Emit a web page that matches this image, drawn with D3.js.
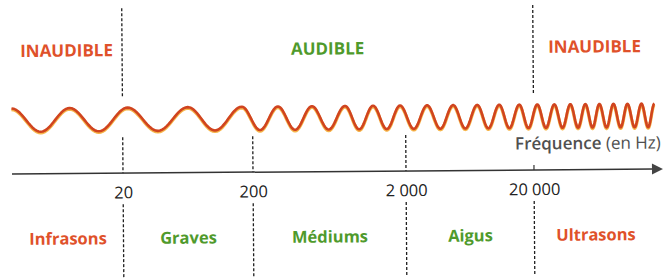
<!DOCTYPE html>
<html><head><meta charset="utf-8">
<script src="https://cdn.jsdelivr.net/npm/d3@7"></script>
<style>html,body{margin:0;padding:0;background:#fff;} svg{display:block;background:#fff}</style>
</head><body>
<svg id="chart" width="664" height="278"></svg>
<script>
// ---------- data ----------
const tickValues = [20, 200, 2000, 20000];
const tickLabels = ["20", "200", "2 000", "20 000"];
const zoneNames = ["INAUDIBLE", "AUDIBLE", "INAUDIBLE"];
const zoneFrom = [null, 20, 20000];
const zoneTo = [20, 20000, null];
const zoneAudible = [false, true, false];
const bandNames = ["Infrasons", "Graves", "Médiums", "Aigus", "Ultrasons"];
const bandFrom = [null, 20, 200, 2000, 20000];
const bandTo = [20, 200, 2000, 20000, null];
const bandAudible = [false, true, true, true, false];
const upperDashes = [20, 20000];
const middleDashes = [20, 200, 2000];
const lowerDashes = [20, 200, 2000, 20000];
const smallTicks = [20000];
const waveCycleWidths = [58, 58, 60, 54, 36, 34, 33, 28, 27, 27, 26, 24, 22, 20, 18, 17, 16, 15, 14, 14, 14, 14, 13];
const axisTitleBold = "Fréquence";
const axisTitleRest = " (en Hz)";

// ---------- layout ----------
const W = 664, H = 278;
const plotLeft = 12, plotRight = 657;
const axisY = 174;
const red = "#df512a", green = "#4f9a2c";
const font = "'Open Sans', sans-serif";

const svg = d3.select("#chart");
svg.append("rect").attr("width", W).attr("height", H).attr("fill", "#fff");
const g = svg.append("g").attr("transform", `rotate(-0.44,10,${axisY})`);

const x = d3.scaleLog().domain(tickValues).range([123, 253, 406, 534]);
const edge = (v, side) => v == null ? (side === 0 ? plotLeft : plotRight) : x(v);

// dashed lines
function dashes(vals, y1, y2) {
  g.append("g").selectAll("line").data(vals).join("line")
    .attr("x1", d => x(d)).attr("x2", d => x(d))
    .attr("y1", y1).attr("y2", y2)
    .attr("stroke", "#1e1e1e").attr("stroke-width", 1.3)
    .attr("stroke-dasharray", "3,2");
}
dashes(upperDashes, 9, 97);
dashes(middleDashes, 138, axisY);
dashes(lowerDashes, 205, 280);
g.append("g").selectAll("line").data(smallTicks).join("line")
  .attr("x1", d => x(d)).attr("x2", d => x(d))
  .attr("y1", axisY - 5).attr("y2", axisY)
  .attr("stroke", "#333").attr("stroke-width", 1.2);

// zone labels (top)
g.append("g").selectAll("text").data(zoneNames).join("text")
  .attr("x", (d, i) => (edge(zoneFrom[i], 0) + edge(zoneTo[i], 1)) / 2)
  .attr("y", 57)
  .attr("text-anchor", "middle")
  .attr("font-family", font).attr("font-weight", 700).attr("font-size", 17)
  .attr("fill", (d, i) => zoneAudible[i] ? green : red)
  .text(d => d);

// wave
const cum = [0];
waveCycleWidths.forEach(w => cum.push(cum[cum.length - 1] + w));
const waveX = d3.scaleLinear().domain([0, cum[cum.length - 1]]).range([plotLeft, 655]);
const waveY = d3.scaleLinear().domain([-1, 1]).range([132, 108.5]);
const pts = [];
const N = 28;
for (let i = 0; i < waveCycleWidths.length; i++) {
  for (let k = (i === 0 ? 0 : 1); k <= N; k++) {
    const t = k / N;
    pts.push([waveX(cum[i] + t * waveCycleWidths[i]), waveY(Math.cos(2 * Math.PI * t))]);
  }
}
const line = d3.line().curve(d3.curveLinear);
g.append("path").attr("d", line(pts)).attr("fill", "none")
  .attr("stroke", "#f6b54a").attr("stroke-width", 3.2)
  .attr("transform", "translate(0,1.1)").attr("stroke-linejoin", "round");
g.append("path").attr("d", line(pts)).attr("fill", "none")
  .attr("stroke", "#d0441f").attr("stroke-width", 2.6).attr("stroke-linejoin", "round");

// axis
g.append("line").attr("x1", plotLeft).attr("x2", 653).attr("y1", axisY).attr("y2", axisY)
  .attr("stroke", "#333").attr("stroke-width", 1.5);
g.append("path").attr("d", `M652,${axisY - 5.5}L663,${axisY}L652,${axisY + 5.5}Z`).attr("fill", "#444");

const axis = d3.axisBottom(x).tickValues(tickValues)
  .tickFormat((d, i) => tickLabels[i]).tickSize(0).tickPadding(13.5);
const ag = g.append("g").attr("transform", `translate(0,${axisY})`).call(axis);
ag.select(".domain").remove();
ag.selectAll("text").attr("font-family", font).attr("font-size", 16.5).attr("fill", "#222");

// axis title
const t = g.append("text").attr("x", 661).attr("y", 153.5).attr("text-anchor", "end")
  .attr("font-family", font).attr("font-size", 17).attr("fill", "#505050");
t.append("tspan").attr("font-weight", 600).text(axisTitleBold);
t.append("tspan").attr("font-weight", 400).text(axisTitleRest);

// band labels (bottom)
g.append("g").selectAll("text").data(bandNames).join("text")
  .attr("x", (d, i) => (edge(bandFrom[i], 0) + edge(bandTo[i], 1)) / 2)
  .attr("y", 245)
  .attr("text-anchor", "middle")
  .attr("font-family", font).attr("font-weight", 700).attr("font-size", 16.5)
  .attr("fill", (d, i) => bandAudible[i] ? green : red)
  .text(d => d);
</script>
</body></html>
